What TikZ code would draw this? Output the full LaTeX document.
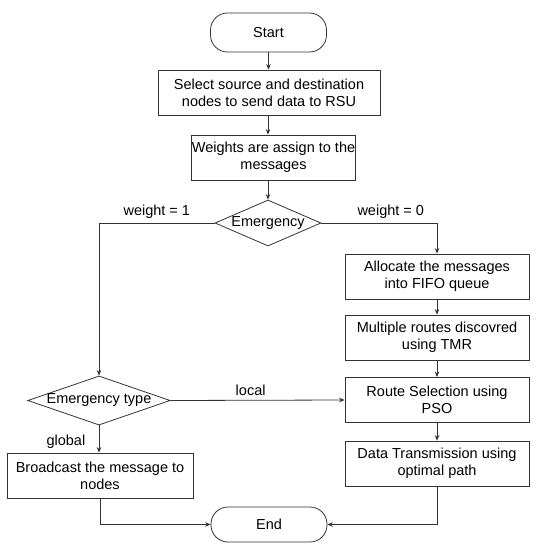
\documentclass[tikz,border=0pt]{standalone}
\usepackage{fontspec}
\setmainfont{Liberation Sans}
\usetikzlibrary{arrows.meta,shapes.geometric}
\definecolor{lineaG}{HTML}{333333}

\begin{document}
\begin{tikzpicture}[x=1pt,y=-1pt,>={Stealth[length=5.5pt,width=4.5pt]},
    every node/.style={font=\fontsize{14.5}{17}\selectfont,text=black},
    proc/.style={draw=lineaG,line width=0.8pt,inner sep=0pt,align=center,
                 minimum height=45pt},
    term/.style={draw=lineaG,line width=0.8pt,rounded corners=17pt,
                 minimum width=116pt},
    decis/.style={draw=lineaG,line width=0.8pt,diamond,inner sep=0pt},
    flujo/.style={->,lineaG,line width=0.8pt},
    etq/.style={font=\fontsize{14.5}{17}\selectfont}]
  \useasboundingbox (0,0) rectangle (536,550);
  % main column
  \node[term,minimum height=39pt] (inicio) at (268.5,32.5) {Start};
  \node[proc,minimum width=222pt] (selec) at (269,92.5)
    {Select source and destination\\nodes to send data to RSU};
  \node[proc,minimum width=157pt] (pesos) at (273.5,157.5)
    {Weights are assign to the\\messages};
  \node[decis,minimum width=106pt,minimum height=46pt,aspect=2.3] (emerg)
    at (268,223) {Emergency};
  % right column
  \node[proc,minimum width=184pt] (asigna) at (437,276.5)
    {Allocate the messages\\into FIFO queue};
  \node[proc,minimum width=184pt] (rutas) at (437,337.5)
    {Multiple routes discovred\\using TMR};
  \node[proc,minimum width=184pt] (selruta) at (437,400)
    {Route Selection using\\PSO};
  \node[proc,minimum width=184pt] (trans) at (437,463.5)
    {Data Transmission using\\optimal path};
  % left column
  \node[decis,minimum width=142pt,minimum height=49pt,aspect=2.9] (tipo)
    at (99,400.5) {Emergency type};
  \node[proc,minimum width=186pt] (difunde) at (100,475.5)
    {Broadcast the message to\\nodes};
  \node[term,minimum height=35pt] (fin) at (269,524.5) {End};
  % connectors
  \draw[flujo] (inicio.south) -- (inicio.south |- selec.north);
  \draw[flujo] (emerg.north |- selec.south) -- (emerg.north |- pesos.north);
  \draw[flujo] (emerg.north |- pesos.south) -- (emerg.north);
  \draw[flujo] (emerg.west) -- node[etq,above,yshift=1pt]{weight = 1}
    (tipo.north |- emerg.west) -- (tipo.north);
  \draw[flujo] (emerg.east) -- node[etq,above,pos=0.6,yshift=1pt]{weight = 0}
    (asigna.north |- emerg.east) -- (asigna.north);
  \draw[flujo] (asigna.south) -- (rutas.north);
  \draw[flujo] (rutas.south) -- (selruta.north);
  \draw[flujo] (selruta.south) -- (trans.north);
  \draw[flujo] (tipo.east) -- node[etq,above,pos=0.46,yshift=1pt]{local}
    (selruta.west);
  \draw[flujo] (tipo.south) -- node[etq,left,pos=0.6,xshift=-10pt]{global}
    (tipo.south |- difunde.north);
  \draw[flujo] (difunde.south) -- (difunde.south |- fin.west) -- (fin.west);
  \draw[flujo] (trans.south) -- (trans.south |- fin.east) -- (fin.east);
\end{tikzpicture}
\end{document}
